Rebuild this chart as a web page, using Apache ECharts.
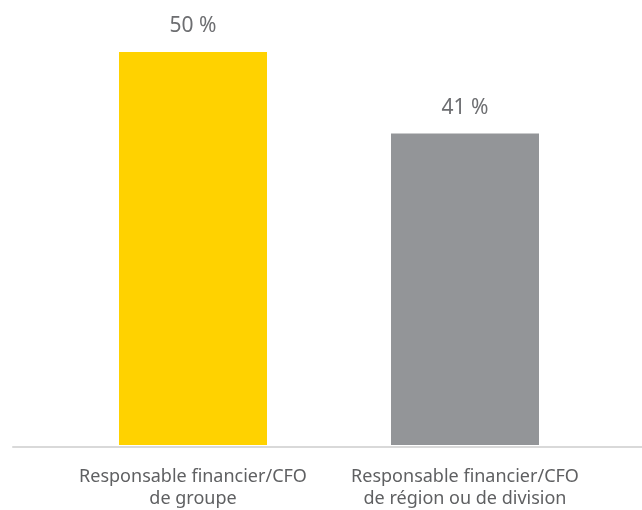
<!DOCTYPE html>
<html><head><meta charset="utf-8">
<script src="https://cdn.jsdelivr.net/npm/echarts@6/dist/echarts.min.js"></script>
<style>html,body{margin:0;padding:0;background:#fff}#c{width:642px;height:510px}</style>
</head><body><div id="c"></div>
<script>
var categories = ['Responsable financier/CFO\nde groupe', 'Responsable financier/CFO\nde région ou de division'];
var values = [50, 41];
var colors = ['#FFD200', '#939598'];
var chart = echarts.init(document.getElementById('c'));
chart.setOption({
  animation: false,
  grid: [
    {left: 57, right: 41, top: 52, bottom: 63},
    {left: 13, right: 0, top: 52, bottom: 63}
  ],
  xAxis: [
    {type: 'category', gridIndex: 0, data: categories, axisLine: {show: false}, axisTick: {show: false},
     axisLabel: {color: '#5f6062', fontFamily: 'Noto Sans', fontSize: 18, lineHeight: 22, margin: 21, interval: 0}},
    {type: 'category', gridIndex: 1, data: [''], axisLine: {show: true, lineStyle: {color: '#d9d9d9', width: 2}}, axisTick: {show: false}, axisLabel: {show: false}}
  ],
  yAxis: [
    {type: 'value', gridIndex: 0, min: 6.65, max: 50, show: false, splitLine: {show: false}},
    {type: 'value', gridIndex: 1, show: false, splitLine: {show: false}}
  ],
  series: [{
    type: 'bar', xAxisIndex: 0, yAxisIndex: 0, barWidth: 148,
    data: values.map(function(v, i){ return {value: v, itemStyle: {color: colors[i]}}; }),
    label: {show: true, position: 'top', distance: 15, formatter: function(p){ return p.value + ' %'; },
      color: '#6d6e71', fontFamily: 'Noto Sans', fontSize: 21}
  }]
});
</script></body></html>
